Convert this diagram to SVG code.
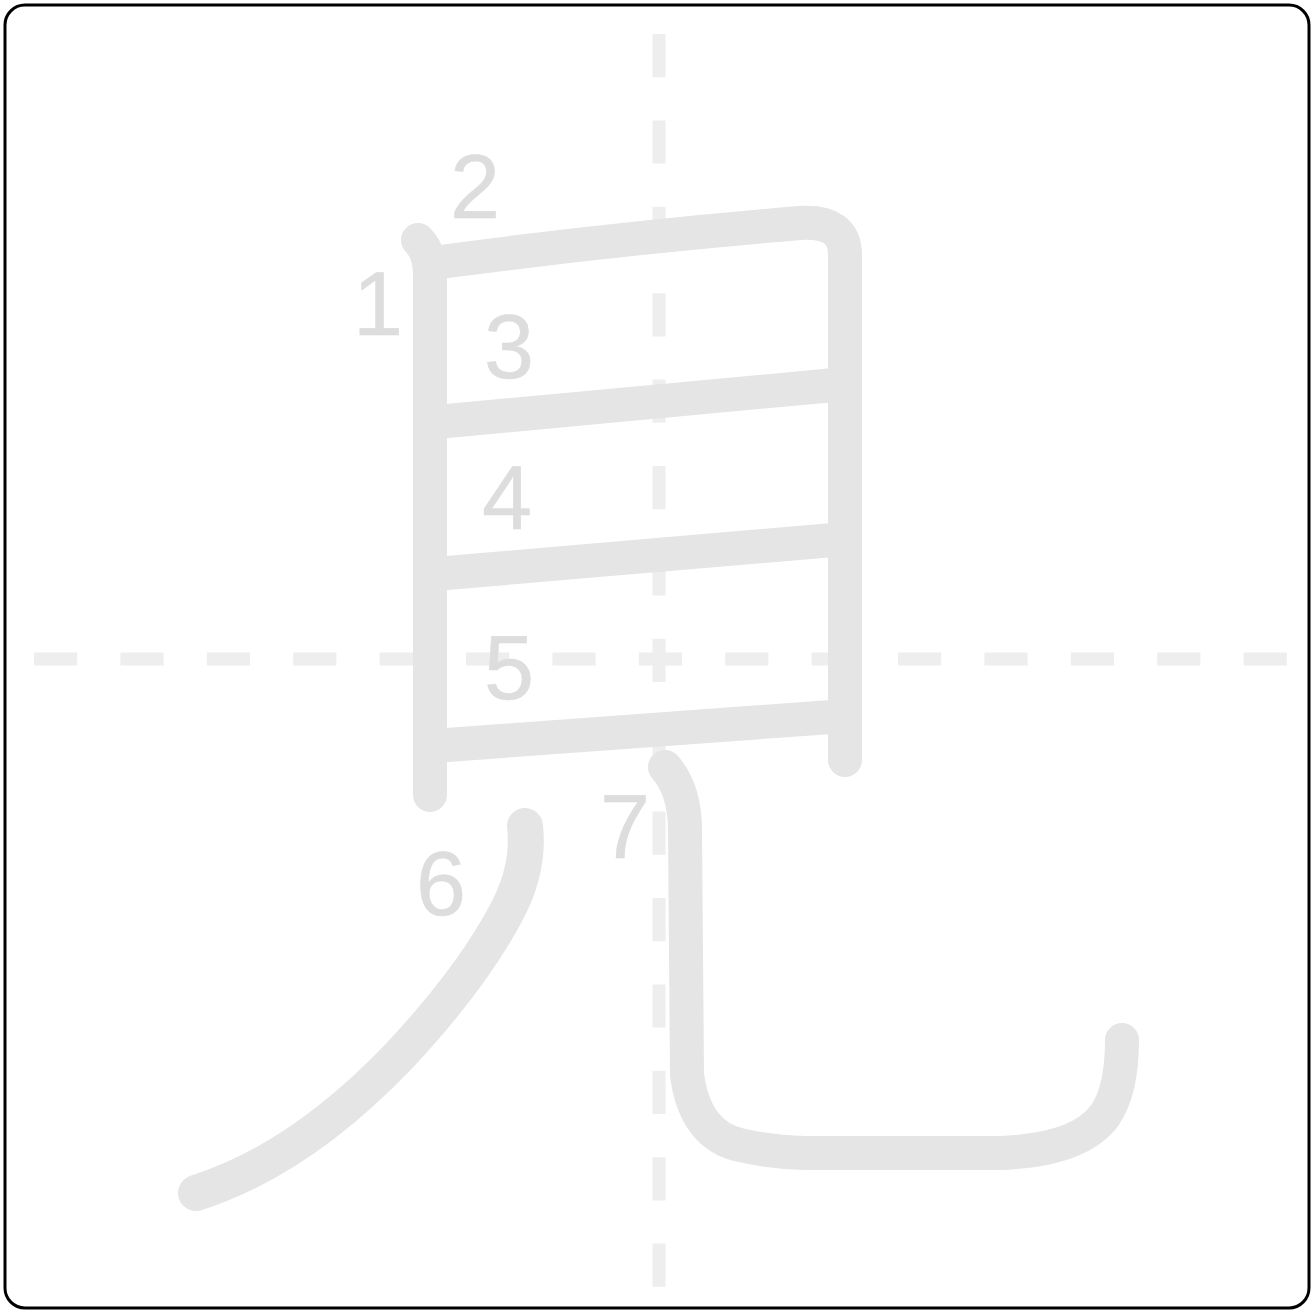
<svg xmlns="http://www.w3.org/2000/svg" width="1314" height="1313" viewBox="0 0 1314 1313">
<style>
.g{stroke:#eeeeee;stroke-width:13;stroke-dasharray:43.2 43.2;fill:none}
.s{stroke:#e5e5e5;stroke-width:34;stroke-linecap:round;stroke-linejoin:round;fill:none}
.n{font-family:"Liberation Sans",Arial,sans-serif;font-size:90px;fill:#dddddd;stroke:#dddddd;stroke-width:0.5}
</style>
<rect x="5" y="5" width="1304" height="1303" rx="20" ry="20" fill="#ffffff" stroke="#000000" stroke-width="3"/>
<g id="guides">
<line class="g" x1="34" y1="659" x2="1290" y2="659"/>
<line class="g" x1="659" y1="34" x2="659" y2="1290"/>
</g>
<g id="strokes">
<path id="s1" class="s" d="M418,240 Q430,252 430,275 L430,795"/>
<path id="s2" class="s" d="M440,262 Q620,238 800,223 Q845,220 845,255 L845,760"/>
<path id="s3" class="s" d="M447,421 L845,384"/>
<path id="s4" class="s" d="M447,573 L845,539"/>
<path id="s5" class="s" d="M447,745 L845,716"/>
<path id="s6" class="s" style="stroke-width:36" d="M525,826 Q530,870 505,915 Q470,980 400,1055 Q300,1160 196,1193"/>
<path id="s7" class="s" d="M665,767 Q685,790 685,830 L687,1075 Q695,1135 740,1145 Q770,1152 805,1153 L1000,1153 Q1080,1150 1105,1115 Q1122,1090 1122,1040"/>
</g>
<g id="labels">
<text class="n" x="353" y="335">1</text>
<text class="n" x="450" y="218">2</text>
<text class="n" x="484" y="378">3</text>
<text class="n" x="482" y="529">4</text>
<text class="n" x="484" y="699">5</text>
<text class="n" x="416" y="915">6</text>
<text class="n" x="600" y="858">7</text>
</g>
</svg>
